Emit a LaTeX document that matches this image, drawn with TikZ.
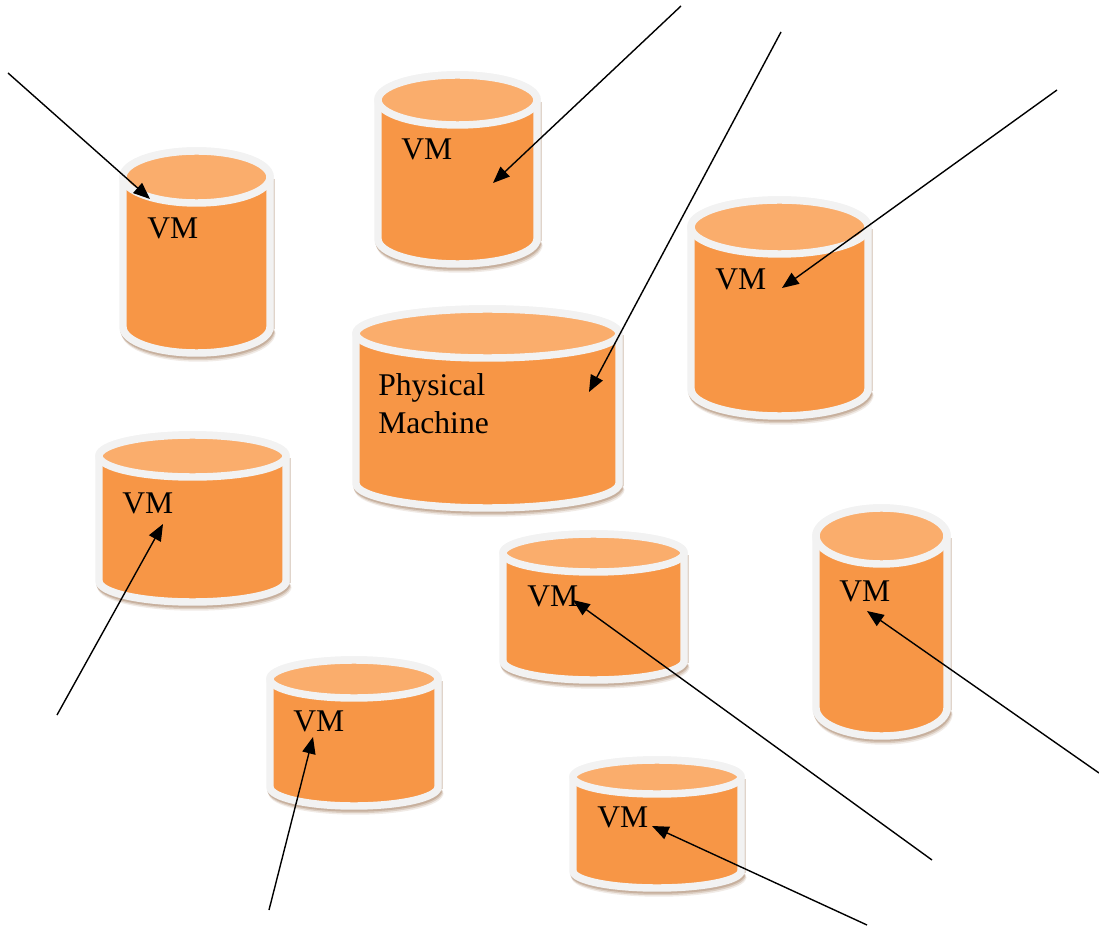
\documentclass[tikz,border=0pt]{standalone}
\usepackage{fontspec}
\setmainfont{Liberation Serif}
\usetikzlibrary{arrows.meta}
\definecolor{bodyc}{HTML}{F79646}
\definecolor{topc}{HTML}{FAAD6C}
\definecolor{rimc}{HTML}{F2F2F2}
\definecolor{shadc}{HTML}{A88468}
\tikzset{
  rim/.style={draw=rimc,line width=5.6pt,line join=round},
  lbl/.style={anchor=base west,inner sep=0pt,font=\fontsize{23.7}{24}\selectfont,text=black},
  pointer/.style={draw=black,line width=1.05pt,-{Triangle[length=12.5pt,width=10pt]}}
}
% #1 left, #2 right, #3 top, #4 ellipse y-radius, #5 bottom (pixel coordinates, y downwards)
\newcommand{\vessel}[5]{%
  \pgfmathsetmacro{\vrx}{(#2-#1)/2}
  \pgfmathsetmacro{\vcx}{(#1+#2)/2}
  \pgfmathsetmacro{\vty}{926-#3-#4}
  \pgfmathsetmacro{\vby}{926-#5+#4}
  \foreach \sa/\so in {5/.16,3.5/.28,2/.4}{
    \path[draw=shadc,line width=5.6pt,draw opacity=\so]
      ([shift={(\sa*.4,-\sa)}]#1,\vby) arc[start angle=180,end angle=360,x radius=\vrx,y radius=#4];
  }
  \path[draw=shadc,line width=2pt,draw opacity=.35] ([shift={(4,-2)}]#2,\vty) -- ([shift={(4,-2)}]#2,\vby);
  \path[fill=bodyc,rim] (#1,\vty) -- (#1,\vby)
    arc[start angle=180,end angle=360,x radius=\vrx,y radius=#4]
    -- (#2,\vty) arc[start angle=0,end angle=180,x radius=\vrx,y radius=#4] -- cycle;
  \path[fill=topc,rim] (\vcx,\vty) ellipse[x radius=\vrx,y radius=#4];
}
\begin{document}
\begin{tikzpicture}[x=.75pt,y=.75pt]
\useasboundingbox (0,0) rectangle (1099,926);
\fill[white] (0,0) rectangle (1099,926);
\vessel{123}{270}{151}{26}{353}
\vessel{378}{537}{75}{25}{264}
\vessel{691}{868}{200}{27}{416}
\vessel{356}{619}{309}{24.5}{508}
\vessel{99}{286}{435}{21}{602}
\vessel{503}{684}{534}{19}{680}
\vessel{816}{947}{508}{28}{736}
\vessel{270}{438}{660}{19}{806}
\vessel{573}{741}{760}{17}{888}

\node[lbl] (vmA) at (147,687) {VM};
\node[lbl] (vmB) at (401,766) {VM};
\node[lbl] (vmC) at (715,636) {VM};
\node[lbl] (pmA) at (378,531) {Physical};
\node[lbl] (pmB) at (378,493) {Machine};
\node[lbl] (vmE) at (122,413) {VM};
\node[lbl] (vmF) at (527,320) {VM};
\node[lbl] (vmG) at (839,325) {VM};
\node[lbl] (vmH) at (293,195) {VM};
\node[lbl] (vmI) at (597,99) {VM};

\coordinate (fa) at (8,853);   \coordinate (ta) at (150,727);
\coordinate (fb) at (681,920); \coordinate (tb) at (493,743);
\coordinate (fc) at (781,894); \coordinate (tc) at (589,534);
\coordinate (fd) at (1057,836);\coordinate (td) at (782,638);
\coordinate (fe) at (57,211);  \coordinate (te) at (163,402);
\coordinate (ff) at (269,16);  \coordinate (tf) at (313,189);
\coordinate (fg) at (932,66);  \coordinate (tg) at (573,326);
\coordinate (fh) at (1099,153);\coordinate (th) at (867,315);
\coordinate (fi) at (867,1);   \coordinate (ti) at (652,100);
\foreach \p/\q in {fa/ta,fb/tb,fc/tc,fd/td,fe/te,ff/tf,fg/tg,fh/th,fi/ti}
  \draw[pointer] (\p) -- (\q);
\end{tikzpicture}
\end{document}
